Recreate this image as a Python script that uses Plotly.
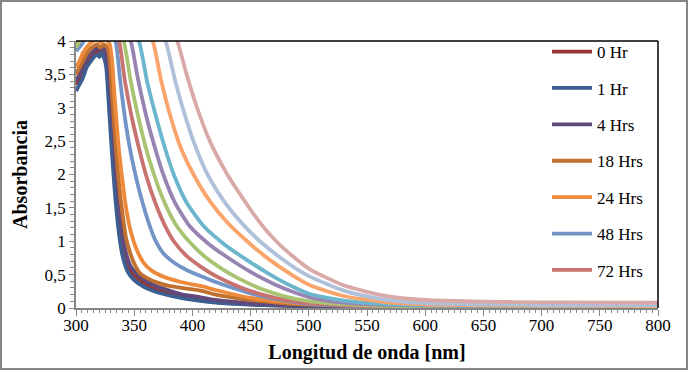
import plotly.graph_objects as go

# ---------------- data ----------------
wl_0h = [300, 303, 306, 309, 312, 315, 318, 320, 322, 325, 327, 329, 331, 333, 335, 337, 339, 341, 344, 347, 351, 358, 366, 375, 390, 401, 420, 450, 500, 600, 700, 800]
ab_0h = [3.35, 3.45, 3.55, 3.68, 3.75, 3.8, 3.84, 3.8, 3.85, 3.78, 3.6, 3.1, 2.55, 2.05, 1.6, 1.25, 1.0, 0.8, 0.65, 0.55, 0.47, 0.38, 0.3, 0.24, 0.17, 0.13, 0.09, 0.055, 0.03, 0.012, 0.008, 0.006]

wl_1h = [300, 303, 306, 309, 312, 315, 318, 320, 322, 324, 326, 328, 330, 332, 334, 336, 338, 340, 343, 346, 350, 358, 366, 375, 390, 401, 420, 450, 500, 550, 600, 700, 800]
ab_1h = [3.25, 3.35, 3.45, 3.6, 3.68, 3.75, 3.8, 3.76, 3.82, 3.75, 3.6, 3.1, 2.55, 2.05, 1.6, 1.25, 0.98, 0.78, 0.6, 0.5, 0.42, 0.32, 0.26, 0.21, 0.15, 0.12, 0.08, 0.05, 0.025, 0.015, 0.01, 0.008, 0.005]

wl_4h = [300, 303, 306, 309, 312, 315, 318, 321, 324, 326, 328, 330, 332, 334, 336, 338, 340, 343, 346, 350, 358, 366, 375, 390, 407, 420, 450, 500, 600, 800]
ab_4h = [3.4, 3.5, 3.6, 3.72, 3.8, 3.85, 3.9, 3.86, 3.9, 3.8, 3.6, 3.1, 2.6, 2.1, 1.7, 1.35, 1.08, 0.82, 0.66, 0.55, 0.43, 0.35, 0.29, 0.21, 0.16, 0.12, 0.07, 0.035, 0.015, 0.008]

wl_18h = [300, 303, 306, 309, 312, 315, 318, 321, 324, 327, 329, 331, 333, 335, 337, 340, 343, 347, 351, 355, 362, 370, 380, 395, 407, 420, 450, 480, 500, 600, 800]
ab_18h = [3.5, 3.6, 3.7, 3.8, 3.88, 3.92, 3.95, 3.9, 3.95, 3.9, 3.7, 3.2, 2.7, 2.25, 1.85, 1.4, 1.05, 0.8, 0.63, 0.52, 0.44, 0.38, 0.33, 0.29, 0.26, 0.2, 0.12, 0.07, 0.05, 0.02, 0.01]

wl_24h = [300, 303, 306, 309, 312, 315, 318, 321, 324, 327, 329, 331, 333, 335, 337, 340, 343, 347, 352, 358, 365, 375, 390, 407, 420, 450, 480, 500, 600, 800]
ab_24h = [3.6, 3.7, 3.82, 3.9, 3.96, 4.0, 4.02, 3.98, 4.02, 4.0, 3.95, 3.7, 3.2, 2.75, 2.35, 1.9, 1.5, 1.15, 0.88, 0.68, 0.56, 0.47, 0.39, 0.33, 0.27, 0.15, 0.09, 0.06, 0.02, 0.01]

wl_48h = [300, 305, 310, 320, 330, 334, 338, 342, 346, 351, 356, 362, 368, 375, 385, 395, 407, 420, 435, 450, 470, 501, 550, 600, 800]
ab_48h = [3.85, 3.95, 4.1, 4.2, 4.15, 4.0, 3.4, 2.85, 2.42, 2.0, 1.65, 1.3, 1.02, 0.82, 0.67, 0.57, 0.48, 0.39, 0.3, 0.22, 0.14, 0.06, 0.025, 0.015, 0.01]

wl_72h = [300, 305, 315, 325, 332, 337, 342, 348, 354, 360, 368, 376, 384, 395, 407, 420, 440, 460, 480, 501, 550, 600, 800]
ab_72h = [3.95, 4.1, 4.3, 4.3, 4.2, 4.0, 3.4, 2.85, 2.4, 2.0, 1.58, 1.25, 1.0, 0.78, 0.62, 0.48, 0.32, 0.2, 0.12, 0.07, 0.03, 0.02, 0.015]

wl_s8 = [300, 303, 315, 330, 336, 341, 347, 353, 360, 367, 375, 385, 398, 410, 425, 440, 460, 480, 501, 550, 600, 800]
ab_s8 = [3.9, 4.0, 4.3, 4.3, 4.2, 4.0, 3.4, 2.9, 2.4, 2.0, 1.62, 1.27, 0.98, 0.78, 0.59, 0.44, 0.28, 0.17, 0.1, 0.04, 0.025, 0.02]

wl_s9 = [300, 320, 340, 347, 353, 360, 367, 375, 385, 398, 414, 430, 450, 470, 485, 501, 530, 560, 600, 800]
ab_s9 = [4.3, 4.3, 4.25, 4.0, 3.45, 2.9, 2.45, 2.0, 1.58, 1.22, 0.96, 0.76, 0.54, 0.36, 0.25, 0.16, 0.08, 0.05, 0.035, 0.025]

wl_s10 = [300, 320, 345, 354, 361, 369, 376, 384, 395, 410, 427, 445, 465, 485, 501, 530, 560, 600, 700, 800]
ab_s10 = [4.3, 4.3, 4.25, 4.0, 3.4, 2.85, 2.42, 2.0, 1.58, 1.22, 0.96, 0.74, 0.52, 0.33, 0.21, 0.11, 0.065, 0.042, 0.03, 0.025]

wl_s11 = [300, 330, 358, 366, 373, 381, 390, 401, 415, 430, 447, 465, 485, 501, 530, 560, 580, 600, 700, 800]
ab_s11 = [4.3, 4.3, 4.25, 4.0, 3.42, 2.88, 2.4, 2.0, 1.6, 1.28, 1.0, 0.74, 0.5, 0.34, 0.18, 0.1, 0.068, 0.052, 0.033, 0.03]

wl_s12 = [300, 340, 370, 377, 385, 393, 402, 413, 428, 443, 458, 475, 490, 501, 530, 560, 578, 600, 650, 700, 800]
ab_s12 = [4.3, 4.3, 4.25, 4.0, 3.42, 2.92, 2.45, 2.0, 1.58, 1.26, 1.0, 0.76, 0.58, 0.47, 0.26, 0.14, 0.1, 0.075, 0.055, 0.045, 0.04]

wl_s13 = [300, 350, 380, 387, 395, 404, 415, 430, 445, 458, 472, 486, 501, 530, 560, 578, 600, 650, 700, 800]
ab_s13 = [4.3, 4.3, 4.25, 4.0, 3.5, 3.0, 2.5, 2.0, 1.6, 1.28, 1.0, 0.78, 0.58, 0.34, 0.2, 0.15, 0.12, 0.095, 0.085, 0.08]

series_names = ["0 Hr", "1 Hr", "4 Hrs", "18 Hrs", "24 Hrs", "48 Hrs", "72 Hrs", "s8", "s9", "s10", "s11", "s12", "s13"]
series_wl = [wl_0h, wl_1h, wl_4h, wl_18h, wl_24h, wl_48h, wl_72h, wl_s8, wl_s9, wl_s10, wl_s11, wl_s12, wl_s13]
series_ab = [ab_0h, ab_1h, ab_4h, ab_18h, ab_24h, ab_48h, ab_72h, ab_s8, ab_s9, ab_s10, ab_s11, ab_s12, ab_s13]
series_colors = ["#953735", "#3A5F90", "#604A7B", "#C0712F", "#EE8A3C", "#7294C6", "#C87370",
                 "#A8C472", "#9884B2", "#6CB6CD", "#F9A46B", "#AFC0DA", "#D9A9A7"]
legend_count = 7

x_ticks = [300, 350, 400, 450, 500, 550, 600, 650, 700, 750, 800]
y_ticks = [0, 0.5, 1, 1.5, 2, 2.5, 3, 3.5, 4]

# ---------------- figure ----------------
fig = go.Figure()
for i, (name, wl, ab, col) in enumerate(zip(series_names, series_wl, series_ab, series_colors)):
    fig.add_trace(go.Scatter(
        x=wl, y=ab, name=name, mode="lines",
        line=dict(color=col, width=3.8, shape="spline", smoothing=0.6),
        showlegend=i < legend_count, legendgroup=name,
    ))

W, H = 688, 370
L, R, T, B = 76, 30, 41, 62
pw, ph = W - L - R, H - T - B

def px2paper_x(px):
    return (px - L) / pw

def px2paper_y(py):
    return (H - B - py) / ph

grey = "#868686"
serif = "Liberation Serif"

fig.update_layout(
    width=W, height=H,
    margin=dict(l=L, r=R, t=T, b=B, pad=0),
    paper_bgcolor="white", plot_bgcolor="white",
    separators=",.",
    font=dict(family=serif, size=17, color="black"),
    showlegend=True,
    legend=dict(
        x=px2paper_x(547), y=px2paper_y(34), xanchor="left", yanchor="top",
        bgcolor="rgba(0,0,0,0)", borderwidth=0,
        font=dict(family=serif, size=17, color="black"),
        traceorder="grouped", tracegroupgap=11.3, itemwidth=40,
        maxheight=330,
    ),
    xaxis=dict(
        range=[300, 800], tickvals=x_ticks, ticks="outside", ticklen=6, tickwidth=1.2,
        tickcolor=grey, showline=True, linecolor=grey, linewidth=1.5,
        showgrid=False, zeroline=False, automargin=False, ticklabelstandoff=-5,
        minor=dict(dtick=5, ticks="outside", ticklen=3, tickcolor=grey, tickwidth=1, showgrid=False),
        tickfont=dict(family=serif, size=17, color="black"),
        title=dict(text="<b>Longitud de onda [nm]</b>", font=dict(family=serif, size=20, color="black"), standoff=11),
    ),
    yaxis=dict(
        range=[0, 4], tickvals=y_ticks, ticks="outside", ticklen=5, tickwidth=1.2,
        tickcolor=grey, showline=True, linecolor=grey, linewidth=1.5,
        showgrid=False, zeroline=False, automargin=False,
        minor=dict(dtick=0.1, ticks="outside", ticklen=4, tickcolor=grey, tickwidth=1, showgrid=False),
        tickfont=dict(family=serif, size=17, color="black"),
        title=dict(text="<b>Absorbancia</b>", font=dict(family=serif, size=20, color="black"), standoff=12),
    ),
    shapes=[
        dict(type="line", xref="paper", yref="paper", x0=0, x1=1, y0=1, y1=1,
             line=dict(color="black", width=1.5)),
        dict(type="line", xref="paper", yref="paper", x0=1, x1=1, y0=0, y1=1,
             line=dict(color="black", width=1.5)),
        dict(type="rect", xref="paper", yref="paper",
             x0=px2paper_x(1), x1=px2paper_x(687), y0=px2paper_y(369), y1=px2paper_y(1),
             line=dict(color=grey, width=2), fillcolor="rgba(0,0,0,0)"),
    ],
)

fig.write_html(
    "out.html",
    config={"displayModeBar": False},
    post_script="document.body.style.margin='0';document.body.style.overflow='hidden';",
)
